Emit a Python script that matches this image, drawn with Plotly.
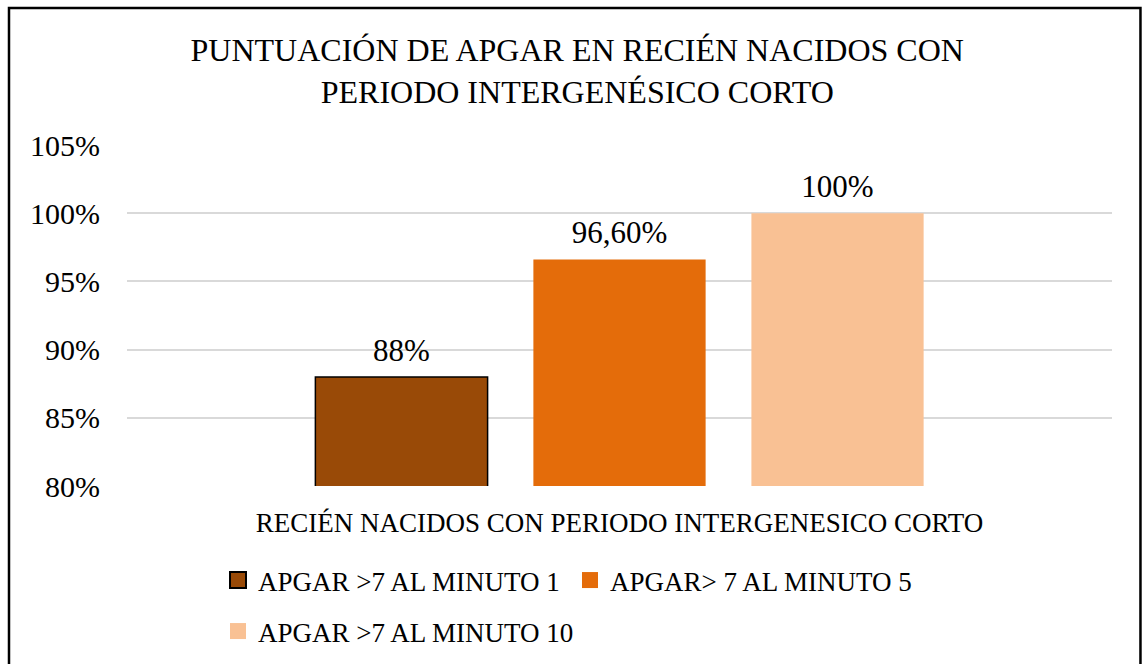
import plotly.graph_objects as go

# Chart data
categoria = ["RECIÉN NACIDOS CON PERIODO INTERGENESICO CORTO"]
series = ["APGAR >7 AL MINUTO 1", "APGAR> 7 AL MINUTO 5", "APGAR >7 AL MINUTO 10"]
valores = [88, 96.6, 100]
etiquetas = ["88%", "96,60%", "100%"]
colores = ["#994A07", "#E46C0A", "#F9C194"]
bordes = ["#000000", "#E46C0A", "#F9C194"]
ticks_y = [80, 85, 90, 95, 100, 105]
ticks_texto = ["80%", "85%", "90%", "95%", "100%", "105%"]
leyenda_grupo = ["legend", "legend", "legend2"]

FONT = "Liberation Serif"
W, H = 1143, 664


def main():
    fig = go.Figure()

    # one bar trace per series, grouped on the single category
    for i, (nombre, val, col, bor) in enumerate(zip(series, valores, colores, bordes)):
        fig.add_trace(
            go.Bar(
                x=categoria,
                y=[val],
                base=0,
                name=nombre,
                offsetgroup=str(i),
                marker=dict(color=col, line=dict(color=bor, width=1.5 if bor == "#000000" else 0)),
                showlegend=False,
            )
        )

    # data labels, grouped the same way as the bars
    for i, (val, lab) in enumerate(zip(valores, etiquetas)):
        fig.add_trace(
            go.Scatter(
                x=categoria,
                y=[val],
                offsetgroup=str(i),
                mode="markers+text",
                text=[lab],
                textposition="top center",
                textfont=dict(family=FONT, size=31, color="#000000"),
                marker=dict(size=12, opacity=0),
                cliponaxis=False,
                showlegend=False,
                hoverinfo="skip",
            )
        )

    # legend-only traces so the squares are the right size
    for nombre, col, bor, lg in zip(series, colores, bordes, leyenda_grupo):
        fig.add_trace(
            go.Scatter(
                x=[None],
                y=[None],
                mode="markers",
                name=nombre,
                legend=lg,
                marker=dict(symbol="square", size=17, color=col,
                            line=dict(color=bor, width=2 if bor == "#000000" else 0)),
            )
        )

    # border around the whole chart
    fig.add_shape(
        type="rect", xref="paper", yref="paper",
        x0=-0.1198, x1=1.0289, y0=1.4018, y1=-0.6,
        line=dict(color="#000000", width=2.5), layer="above",
    )

    leyenda_base = dict(
        orientation="h",
        x=(218 - 127) / 985, xanchor="left",
        yref="container", yanchor="top",
        entrywidthmode="pixels",
        font=dict(family=FONT, size=27, color="#000000"),
        itemclick=False,
        bgcolor="rgba(0,0,0,0)",
    )

    fig.update_layout(
        width=W,
        height=H,
        margin=dict(l=127, r=31, t=145, b=178),
        paper_bgcolor="white",
        plot_bgcolor="white",
        font=dict(family=FONT, color="#000000"),
        title=dict(
            text="PUNTUACIÓN DE APGAR EN RECIÉN NACIDOS CON<br>PERIODO INTERGENÉSICO CORTO",
            font=dict(family=FONT, size=32, color="#000000"),
            x=0.505, xref="container", xanchor="center",
            y=1 - 61 / H, yref="container", yanchor="middle",
        ),
        barmode="group",
        bargap=0.336,
        bargroupgap=0.21,
        scattermode="group",
        scattergap=0.336,
        legend=dict(leyenda_base, y=1 - 556 / H, entrywidth=307),
        legend2=dict(leyenda_base, y=1 - 607 / H, entrywidth=420),
        xaxis=dict(
            type="category",
            showgrid=False,
            showline=False,
            ticks="",
            tickfont=dict(family=FONT, size=27, color="#000000"),
            ticklabelstandoff=18,
        ),
        yaxis=dict(
            range=[80, 105],
            tickvals=ticks_y,
            ticktext=ticks_texto,
            showgrid=True,
            gridcolor="#D9D9D9",
            gridwidth=1.5,
            zeroline=False,
            showline=False,
            ticks="",
            tickfont=dict(family=FONT, size=30, color="#000000"),
            ticklabelstandoff=26,
        ),
    )

    # drop the default page margin so the chart fills the window
    fig.write_html(
        "out.html",
        config={"displayModeBar": False},
        post_script="document.body.style.margin='0';",
    )


if __name__ == "__main__":
    main()
